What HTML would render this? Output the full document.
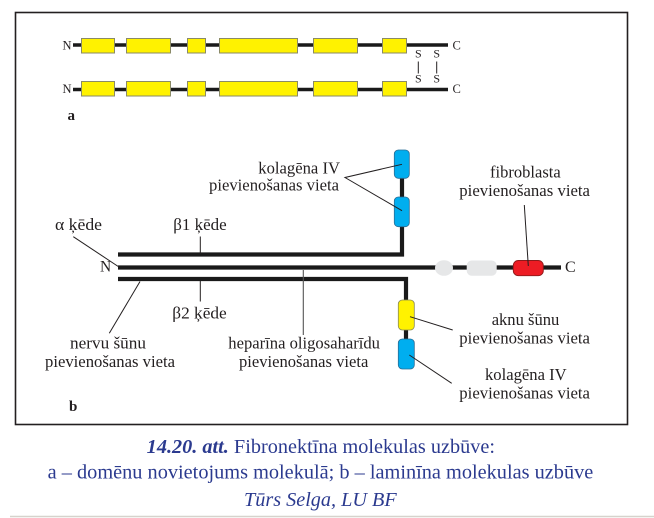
<!DOCTYPE html>
<html>
<head>
<meta charset="utf-8">
<style>
html,body{margin:0;padding:0;background:#fff;}
svg{display:block;}
.t{font-family:"Liberation Serif","DejaVu Serif",serif;fill:#231f20;}
.c{font-family:"Liberation Serif","DejaVu Serif",serif;fill:#2b3a8f;}
</style>
</head>
<body>
<svg width="654" height="518" viewBox="0 0 654 518" xmlns="http://www.w3.org/2000/svg">
  <!-- frame -->
  <rect x="15.5" y="12.5" width="612" height="412" fill="none" stroke="#231f20" stroke-width="1.6"/>

  <!-- ===== Part a ===== -->
  <line x1="73" y1="45" x2="448" y2="45" stroke="#1a1a1a" stroke-width="3.6"/>
  <line x1="73" y1="89.5" x2="448" y2="89.5" stroke="#1a1a1a" stroke-width="3.6"/>
  <g fill="#fff200" stroke="#8a8a66" stroke-width="1">
    <rect x="81.5" y="38.5" width="33" height="14.5"/>
    <rect x="126.5" y="38.5" width="44" height="14.5"/>
    <rect x="187.5" y="38.5" width="18" height="14.5"/>
    <rect x="219.5" y="38.5" width="78" height="14.5"/>
    <rect x="313.5" y="38.5" width="44" height="14.5"/>
    <rect x="382.5" y="38.5" width="24" height="14.5"/>
    <rect x="81.5" y="81.5" width="33" height="14.5"/>
    <rect x="126.5" y="81.5" width="44" height="14.5"/>
    <rect x="187.5" y="81.5" width="18" height="14.5"/>
    <rect x="219.5" y="81.5" width="78" height="14.5"/>
    <rect x="313.5" y="81.5" width="44" height="14.5"/>
    <rect x="382.5" y="81.5" width="24" height="14.5"/>
  </g>
  <text class="t" x="62.5" y="49.5" font-size="12.5">N</text>
  <text class="t" x="452.5" y="49.5" font-size="12.5">C</text>
  <text class="t" x="62.5" y="93" font-size="12.5">N</text>
  <text class="t" x="452.5" y="93" font-size="12.5">C</text>
  <text class="t" x="418.3" y="57.7" font-size="12" text-anchor="middle">S</text>
  <text class="t" x="436.7" y="57.7" font-size="12" text-anchor="middle">S</text>
  <text class="t" x="418.3" y="82.7" font-size="12" text-anchor="middle">S</text>
  <text class="t" x="436.7" y="82.7" font-size="12" text-anchor="middle">S</text>
  <line x1="418.3" y1="61.5" x2="418.3" y2="73.5" stroke="#231f20" stroke-width="1"/>
  <line x1="436.7" y1="61.5" x2="436.7" y2="73.5" stroke="#231f20" stroke-width="1"/>
  <text class="t" x="67.5" y="120" font-size="15" font-weight="bold">a</text>

  <!-- ===== Part b ===== -->
  <!-- top chain (beta1) -->
  <polyline points="118,254.5 402,254.5 402,226" fill="none" stroke="#1a1a1a" stroke-width="4.2"/>
  <line x1="402" y1="177" x2="402" y2="198" stroke="#1a1a1a" stroke-width="4.2"/>
  <!-- middle chain (alpha) -->
  <line x1="118" y1="267.5" x2="561" y2="267.5" stroke="#1a1a1a" stroke-width="4.2"/>
  <!-- bottom chain (beta2) -->
  <polyline points="118,279 406,279 406,301" fill="none" stroke="#1a1a1a" stroke-width="4.2"/>
  <line x1="406" y1="329" x2="406" y2="340" stroke="#1a1a1a" stroke-width="4.2"/>

  <!-- blue top boxes -->
  <rect x="394.3" y="150" width="15" height="28.3" rx="4" fill="#00aeef" stroke="#2a6d95" stroke-width="0.8"/>
  <rect x="394.3" y="197" width="15" height="29.7" rx="4" fill="#00aeef" stroke="#2a6d95" stroke-width="0.8"/>
  <!-- yellow & blue lower boxes -->
  <rect x="398.3" y="300" width="16" height="30" rx="4" fill="#fff200" stroke="#8a8a55" stroke-width="0.8"/>
  <rect x="398.3" y="339" width="16" height="30" rx="4" fill="#00aeef" stroke="#2a6d95" stroke-width="0.8"/>
  <!-- gray domains, red domain -->
  <ellipse cx="444" cy="268" rx="9" ry="7.8" fill="#e6e7e8"/>
  <rect x="466.7" y="260.5" width="30" height="15.2" rx="5" fill="#e6e7e8"/>
  <rect x="513.3" y="260.5" width="30" height="15.2" rx="5" fill="#ed1c24" stroke="#8e1a1a" stroke-width="0.9"/>

  <!-- leader lines -->
  <g stroke="#231f20" stroke-width="1" fill="none">
    <line x1="73.3" y1="236.7" x2="119" y2="267"/>
    <line x1="200.3" y1="236.5" x2="200.3" y2="254"/>
    <line x1="200.3" y1="281" x2="200.3" y2="301.5"/>
    <line x1="140" y1="281.5" x2="109.3" y2="333.3"/>
    <polyline points="402,164.3 345,177.5 402,210.7"/>
    <line x1="524.3" y1="205" x2="528.3" y2="266"/>
    <line x1="410" y1="316.7" x2="452.7" y2="330"/>
    <line x1="409.3" y1="355" x2="451.7" y2="383.3"/>
  </g>
  <line x1="303.3" y1="270" x2="303.3" y2="335" stroke="#555" stroke-width="1.1"/>

  <!-- labels -->
  <g class="t" font-size="16.6">
    <text x="55" y="230" textLength="47" lengthAdjust="spacingAndGlyphs">α ķēde</text>
    <text x="173.3" y="230" textLength="53.4" lengthAdjust="spacingAndGlyphs">β1 ķēde</text>
    <text x="100" y="271.7" font-size="15.5">N</text>
    <text x="565" y="272" font-size="16">C</text>
    <text x="258.3" y="173.3" textLength="81.7" lengthAdjust="spacingAndGlyphs">kolagēna IV</text>
    <text x="209" y="190.5" textLength="130" lengthAdjust="spacingAndGlyphs">pievienošanas vieta</text>
    <text x="490" y="177.3" textLength="70.7" lengthAdjust="spacingAndGlyphs">fibroblasta</text>
    <text x="459.3" y="196" textLength="130.7" lengthAdjust="spacingAndGlyphs">pievienošanas vieta</text>
    <text x="172.3" y="318.3" textLength="54.4" lengthAdjust="spacingAndGlyphs">β2 ķēde</text>
    <text x="70" y="348.5" textLength="76" lengthAdjust="spacingAndGlyphs">nervu šūnu</text>
    <text x="45" y="366.8" textLength="130" lengthAdjust="spacingAndGlyphs">pievienošanas vieta</text>
    <text x="228.3" y="348.5" textLength="151.7" lengthAdjust="spacingAndGlyphs">heparīna oligosaharīdu</text>
    <text x="239" y="367" textLength="129.3" lengthAdjust="spacingAndGlyphs">pievienošanas vieta</text>
    <text x="491.7" y="325" textLength="67.6" lengthAdjust="spacingAndGlyphs">aknu šūnu</text>
    <text x="459.3" y="343.3" textLength="130.7" lengthAdjust="spacingAndGlyphs">pievienošanas vieta</text>
    <text x="485" y="380" textLength="81.7" lengthAdjust="spacingAndGlyphs">kolagēna IV</text>
    <text x="459.3" y="398.3" textLength="130.7" lengthAdjust="spacingAndGlyphs">pievienošanas vieta</text>
  </g>
  <text class="t" x="69" y="411" font-size="15" font-weight="bold">b</text>

  <!-- caption -->
  <text class="c" x="146.7" y="452.8" font-size="19.5" textLength="348.3" lengthAdjust="spacingAndGlyphs"><tspan font-weight="bold" font-style="italic">14.20. att.</tspan> Fibronektīna molekulas uzbūve:</text>
  <text class="c" x="47.7" y="478.3" font-size="19.5" textLength="545.6" lengthAdjust="spacingAndGlyphs">a – domēnu novietojums molekulā; b – laminīna molekulas uzbūve</text>
  <text class="c" x="244" y="506" font-size="19.5" font-style="italic" textLength="152.7" lengthAdjust="spacingAndGlyphs">Tūrs Selga, LU BF</text>

  <!-- bottom page line -->
  <line x1="10" y1="516.5" x2="654" y2="516.5" stroke="#d6d3cc" stroke-width="1.5"/>
</svg>
</body>
</html>
